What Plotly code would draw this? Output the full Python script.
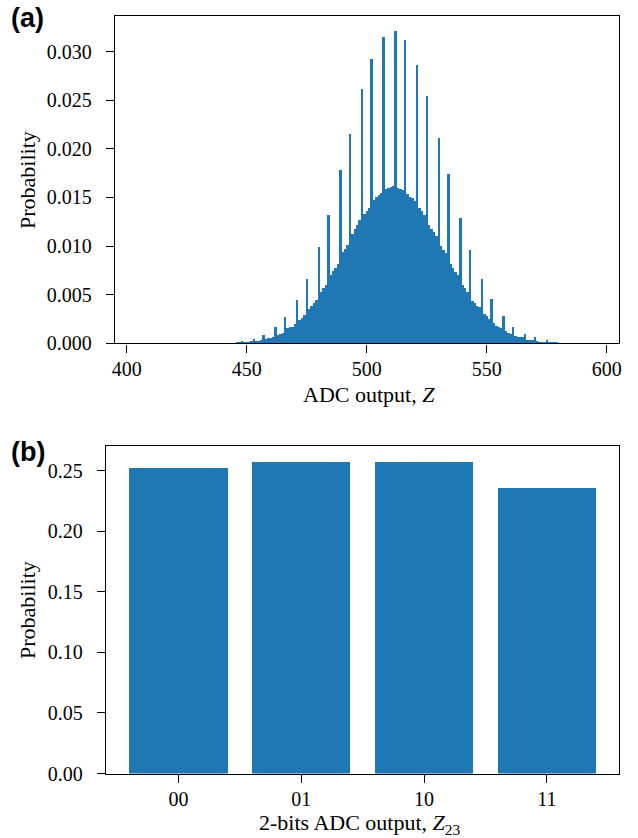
import plotly.graph_objects as go

# ---------------- data: panel (a) ----------------
# ADC output codes start at z_start; probability per code
z_start = 440
prob_a = [
    0.00001, 0.00002, 0.00003, 0.00004, 0.00006, 0.00008, 0.00010, 0.00012,  # 440-447
    0.00026, 0.00015, 0.00018, 0.00022, 0.00026,                              # 448-452
    0.00054, 0.00030, 0.00033, 0.00037,                                       # 453-456
    0.00086, 0.00052, 0.00056, 0.00062, 0.00068,                              # 457-461
    0.00168, 0.00094, 0.00100, 0.00113,                                       # 462-465
    0.00271, 0.00160, 0.00170, 0.00178, 0.00200,                              # 466-470
    0.00446, 0.00250, 0.00270, 0.00300,                                       # 471-474
    0.00662, 0.00360, 0.00390, 0.00420, 0.00450,                              # 475-479
    0.00991, 0.00530, 0.00570, 0.00600,                                       # 480-483
    0.01330, 0.00710, 0.00750, 0.00780, 0.00820,                              # 484-488
    0.01783, 0.00940, 0.00980, 0.01020,                                       # 489-492
    0.02163, 0.01130, 0.01180, 0.01220, 0.01270,                              # 493-497
    0.02616, 0.01340, 0.01370, 0.01400,                                       # 498-501
    0.02925, 0.01480, 0.01510, 0.01530, 0.01550,                              # 502-506
    0.03151, 0.01590, 0.01600, 0.01610, 0.01620,                              # 507-511
    0.03213, 0.01600, 0.01594, 0.01580,                                       # 512-515
    0.03130, 0.01536, 0.01515, 0.01495, 0.01464,                              # 516-520
    0.02863, 0.01392, 0.01361, 0.01330,                                       # 521-524
    0.02554, 0.01227, 0.01186, 0.01145, 0.01114,                              # 525-529
    0.02112, 0.01011, 0.00970, 0.00929,                                       # 530-533
    0.01742, 0.00816, 0.00775, 0.00734, 0.00703,                              # 534-538
    0.01289, 0.00600, 0.00569, 0.00538,                                       # 539-542
    0.00970, 0.00445, 0.00415, 0.00394, 0.00374,                              # 543-547
    0.00662, 0.00302, 0.00281, 0.00260,                                       # 548-551
    0.00466, 0.00209, 0.00188, 0.00178, 0.00158,                              # 552-556
    0.00281, 0.00127, 0.00116, 0.00106,                                       # 557-560
    0.00178, 0.00085, 0.00075, 0.00065, 0.00065,                              # 561-565
    0.00106, 0.00044, 0.00044, 0.00034,                                       # 566-569
    0.00065, 0.00024, 0.00022, 0.00020, 0.00018,                              # 570-574
    0.00034, 0.00013, 0.00012, 0.00010,                                       # 575-578
    0.00014, 0.00008, 0.00007, 0.00005, 0.00004,                              # 579-583
    0.00006, 0.00003, 0.00002, 0.00002, 0.00002, 0.00001, 0.00001,            # 584-590
]
z_codes = list(range(z_start, z_start + len(prob_a)))
ticks_a_x = [400, 450, 500, 550, 600]
ticks_a_y = [0.000, 0.005, 0.010, 0.015, 0.020, 0.025, 0.030]

# ---------------- data: panel (b) ----------------
cats_b = ["00", "01", "10", "11"]
prob_b = [0.2519, 0.2569, 0.2569, 0.2354]
ticks_b_y = [0.00, 0.05, 0.10, 0.15, 0.20, 0.25]

# ---------------- figure ----------------
W, H = 638, 838
BLUE = "#1f77b4"
SERIF = "Liberation Serif, Times New Roman, serif"
SANS = "Liberation Sans, Arial, sans-serif"
FS = 20      # tick labels
FT = 22      # axis titles

fig = go.Figure()
fig.add_trace(go.Bar(x=z_codes, y=prob_a, width=1.0,
                     marker=dict(color=BLUE, line=dict(width=0)),
                     xaxis="x", yaxis="y", showlegend=False, hoverinfo="x+y"))
fig.add_trace(go.Bar(x=list(range(len(cats_b))), y=prob_b, width=0.8,
                     marker=dict(color=BLUE, line=dict(width=0)),
                     xaxis="x2", yaxis="y2", showlegend=False))

def px_x(a, b):
    return [a / W, b / W]

def px_y(top, bottom):
    return [1 - bottom / H, 1 - top / H]

axis_common = dict(showgrid=False, zeroline=False, showline=True, linecolor="black",
                   linewidth=1.4, mirror=True, ticks="outside", ticklen=8,
                   tickwidth=1.4, tickcolor="black", automargin=False,
                   tickfont=dict(family=SERIF, size=FS, color="black"))
xa = dict(axis_common, ticklabelstandoff=-1)
ya = dict(axis_common, ticklabelstandoff=10)

def label(text, x, y, angle=0):
    return dict(text=text, x=x / W, y=1 - y / H, xref="paper", yref="paper",
                xanchor="center", yanchor="middle", showarrow=False, textangle=angle,
                font=dict(family=SERIF, size=FT, color="black"))

fig.update_layout(
    template="none",
    width=W, height=H,
    margin=dict(l=0, r=0, t=0, b=0, autoexpand=False),
    paper_bgcolor="white", plot_bgcolor="white",
    bargap=0,
    xaxis=dict(domain=px_x(115, 619.3), anchor="y", range=[395.1, 605.25],
               tickvals=ticks_a_x, ticktext=[str(v) for v in ticks_a_x], **xa),
    yaxis=dict(domain=px_y(15.5, 343.3), anchor="x", range=[0, 0.03372],
               tickvals=ticks_a_y, ticktext=[f"{v:.3f}" for v in ticks_a_y], **ya),
    xaxis2=dict(domain=px_x(106, 619.3), anchor="y2", range=[-0.59, 3.59],
                tickvals=list(range(len(cats_b))), ticktext=cats_b, **xa),
    yaxis2=dict(domain=px_y(446, 773.5), anchor="x2", range=[0, 0.2704],
                tickvals=ticks_b_y, ticktext=[f"{v:.2f}" for v in ticks_b_y], **ya),
    annotations=[
        label("ADC output, <i>Z</i>", 369, 394),
        label("Probability", 27, 180, angle=-90),
        label("2-bits ADC output, <i>Z</i><sub>23</sub>", 360, 824),
        label("Probability", 27, 610, angle=-90),
        dict(text="<b>(a)</b>", x=9 / W, y=1 - 18 / H, xref="paper", yref="paper",
             xanchor="left", yanchor="middle", showarrow=False,
             font=dict(family=SANS, size=27, color="black")),
        dict(text="<b>(b)</b>", x=9 / W, y=1 - 452 / H, xref="paper", yref="paper",
             xanchor="left", yanchor="middle", showarrow=False,
             font=dict(family=SANS, size=27, color="black")),
    ],
)

fig.write_html("out.html",
               config={"displayModeBar": False},
               post_script="document.body.style.margin='0px';document.body.style.overflow='hidden';")
